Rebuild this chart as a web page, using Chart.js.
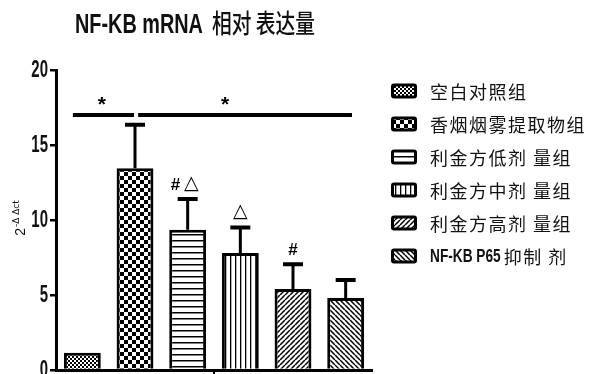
<!DOCTYPE html>
<html>
<head>
<meta charset="utf-8">
<title>NF-KB mRNA 相对 表达量</title>
<script src="https://cdn.jsdelivr.net/npm/chart.js@4/dist/chart.umd.min.js"></script>
<style>
  html, body { margin: 0; padding: 0; background: #fff; }
  #wrap { position: relative; width: 592px; height: 374px; }
</style>
</head>
<body>
<div id="wrap"><canvas id="chart"></canvas></div>
<script>
// ─── Data ────────────────────────────────────────────────────────────────────

const TITLE = 'NF-KB mRNA 相对 表达量';

const GROUPS = [
  '空白对照组',
  '香烟烟雾提取物组',
  '利金方低剂 量组',
  '利金方中剂 量组',
  '利金方高剂 量组',
  'NF-KB P65 抑制 剂',
];

const MEANS  = [1.15, 13.45, 9.35, 7.8, 5.4, 4.8];
const ERRORS = [0, 2.9, 2.05, 1.7, 1.65, 1.2];
const MARKS  = ['', '', '#△', '△', '#', ''];

// significance brackets: [from index, to index], star index, level
const SIG_LINES = [[-0.18, 0.98], [1.06, 5.12]];
const SIG_STARS = [0.37, 2.71];
const SIG_LEVEL = 17;

// ─── Helpers ─────────────────────────────────────────────────────────────────

const $ = (id) => document.getElementById(id);

function diag(back) {
  return (g, s) => {
    g.lineWidth = 1.5;
    g.beginPath();
    for (let k = -1; k <= 1; k++) {
      if (back) { g.moveTo(k * s, 0); g.lineTo(k * s + s, s); }
      else      { g.moveTo(k * s, s); g.lineTo(k * s + s, 0); }
    }
    g.stroke();
  };
}

function makePattern(size, paint) {
  const c = document.createElement('canvas');
  c.width = c.height = size;
  const g = c.getContext('2d');
  g.fillStyle = '#fff';
  g.fillRect(0, 0, size, size);
  g.fillStyle = '#000';
  g.strokeStyle = '#000';
  paint(g, size);
  return g.createPattern(c, 'repeat');
}

const PATTERNS = [
  makePattern(4, (g) => { g.fillRect(0, 0, 2, 2); g.fillRect(2, 2, 2, 2); }),
  makePattern(8, (g) => { g.fillRect(0, 0, 4, 4); g.fillRect(4, 4, 4, 4); }),
  makePattern(6, (g, s) => { g.fillRect(0, 0, s, 1.5); }),
  makePattern(5, (g, s) => { g.fillRect(0, 0, 1.3, s); }),
  makePattern(5, diag(false)),
  makePattern(5, diag(true)),
];

function splitLatin(text) {
  const m = text.match(/^[\x21-\x7E][\x20-\x7E]*/);
  if (!m) return ['', text];
  return [m[0].trim(), text.slice(m[0].length)];
}

// draw text squeezed horizontally, returns drawn width
function drawSquashed(ctx, text, x, y, font, sx, spacing = '0px') {
  ctx.save();
  ctx.font = font;
  ctx.letterSpacing = spacing;
  ctx.translate(x, y);
  ctx.scale(sx, 1);
  ctx.fillText(text, 0, 0);
  const w = ctx.measureText(text).width * sx;
  ctx.restore();
  return w;
}

// ─── Plugin: error bars, marks, brackets, title, legend ─────────────────────

const decorations = {
  id: 'decorations',
  afterDatasetsDraw(chart) {
    const { ctx, scales: { x, y } } = chart;
    const meta = chart.getDatasetMeta(0);
    ctx.save();
    ctx.strokeStyle = '#000';
    ctx.fillStyle = '#000';
    ctx.lineCap = 'butt';

    // upper error bars
    meta.data.forEach((bar, i) => {
      if (!ERRORS[i]) return;
      const top = y.getPixelForValue(MEANS[i] + ERRORS[i]);
      ctx.lineWidth = 3;
      ctx.beginPath(); ctx.moveTo(bar.x, bar.y); ctx.lineTo(bar.x, top); ctx.stroke();
      ctx.lineWidth = 4;
      ctx.beginPath(); ctx.moveTo(bar.x - 10, top); ctx.lineTo(bar.x + 10, top); ctx.stroke();
    });

    // # / △ marks above the error bars
    ctx.textBaseline = 'middle';
    ctx.textAlign = 'left';
    MARKS.forEach((m, i) => {
      if (!m) return;
      const cx = x.getPixelForValue(i);
      const cy = y.getPixelForValue(MEANS[i] + ERRORS[i]) - 15;
      const parts = [...m].map((ch) => ({
        ch, font: ch === '#' ? 'bold 17px "Liberation Sans"' : '19px "DejaVu Sans"',
      }));
      let total = 0;
      parts.forEach((p) => { ctx.font = p.font; p.w = ctx.measureText(p.ch).width; total += p.w; });
      total += (parts.length - 1) * 4;
      let px = cx - total / 2 - (parts.length > 1 ? 3 : 0);
      parts.forEach((p) => {
        ctx.font = p.font;
        ctx.fillText(p.ch, px, cy + (p.ch === '#' ? 1 : 0));
        px += p.w + 4;
      });
    });

    // significance brackets
    const ly = y.getPixelForValue(SIG_LEVEL);
    ctx.lineWidth = 4;
    SIG_LINES.forEach(([a, b]) => {
      ctx.beginPath();
      ctx.moveTo(x.getPixelForValue(a), ly);
      ctx.lineTo(x.getPixelForValue(b), ly);
      ctx.stroke();
    });
    ctx.font = 'bold 21px "Liberation Sans"';
    ctx.textAlign = 'center';
    ctx.textBaseline = 'middle';
    SIG_STARS.forEach((s) => ctx.fillText('*', x.getPixelForValue(s), ly - 10));

    // middle tick under the x axis
    const mx = x.getPixelForValue((GROUPS.length - 1) / 2);
    ctx.lineWidth = 2;
    ctx.beginPath(); ctx.moveTo(mx, y.bottom); ctx.lineTo(mx, y.bottom + 6); ctx.stroke();
    ctx.restore();
  },

  afterDraw(chart) {
    const { ctx, scales: { y } } = chart;
    ctx.save();
    ctx.fillStyle = '#111';
    ctx.textBaseline = 'alphabetic';

    // title
    const [tLatin, tCjk] = splitLatin(TITLE);
    const tw = drawSquashed(ctx, tLatin, 75, 33, 'bold 27px "Liberation Sans"', 0.735);
    drawSquashed(ctx, tCjk, 75 + tw + 9, 33, '500 26px "Noto Sans CJK SC"', 0.76);

    // y tick labels (condensed bold)
    ctx.textAlign = 'right';
    ctx.textBaseline = 'middle';
    y.ticks.forEach((t) => {
      drawSquashed(ctx, String(t.value), y.right - 8, y.getPixelForValue(t.value) + 1,
        'bold 23px "Liberation Sans"', 0.65);
    });

    // y axis title: 2^-ΔΔct
    ctx.save();
    ctx.translate(21, 218);
    ctx.rotate(-Math.PI / 2);
    ctx.textAlign = 'left';
    ctx.textBaseline = 'alphabetic';
    ctx.font = '14px "Liberation Sans"';
    const w1 = ctx.measureText('2').width;
    ctx.font = '9px "DejaVu Sans"';
    const sup = '-Δ Δct';
    const w2 = ctx.measureText(sup).width;
    const sx = -(w1 + 1 + w2) / 2;
    ctx.font = '14px "Liberation Sans"';
    ctx.fillText('2', sx, 4);
    ctx.font = '9px "DejaVu Sans"';
    ctx.fillText(sup, sx + w1 + 1, -2);
    ctx.restore();

    // legend
    ctx.textAlign = 'left';
    ctx.textBaseline = 'middle';
    GROUPS.forEach((g, i) => {
      const cy = 91 + i * 33;
      ctx.fillStyle = '#000';
      ctx.beginPath();
      ctx.roundRect(391, cy - 7.5, 26, 15, 3);
      ctx.fill();
      ctx.fillStyle = PATTERNS[i];
      ctx.fillRect(394, cy - 4.5, 20, 9);

      ctx.fillStyle = '#111';
      const [latin, cjk] = splitLatin(g);
      let tx = 430;
      if (latin) {
        tx += drawSquashed(ctx, latin, tx, cy + 1, 'bold 19px "Liberation Sans"', 0.72) + 3;
      }
      drawSquashed(ctx, cjk, tx, cy + 1, '18px "Noto Sans CJK SC"', 1, '1.5px');
    });
    ctx.restore();
  },
};

// ─── Chart ───────────────────────────────────────────────────────────────────

new Chart($('chart'), {
  type: 'bar',
  data: {
    labels: GROUPS,
    datasets: [{
      data: MEANS,
      backgroundColor: PATTERNS,
      borderColor: '#000',
      borderWidth: 3,
      barPercentage: 0.7,
      categoryPercentage: 1,
    }],
  },
  options: {
    responsive: true,
    maintainAspectRatio: false,
    animation: false,
    layout: { padding: { top: 70, right: 220, bottom: 0, left: 0 } },
    plugins: {
      legend: { display: false },
      tooltip: { enabled: false },
    },
    scales: {
      x: {
        offset: true,
        ticks: { display: false },
        grid: { display: false },
        border: { display: true, color: '#000', width: 3 },
        afterFit: (s) => { s.height = 4; },
      },
      y: {
        min: 0,
        max: 20,
        ticks: { stepSize: 5, display: false },
        grid: { drawOnChartArea: false, drawTicks: true, tickLength: 6, color: '#000', lineWidth: 2.5 },
        border: { color: '#000', width: 3 },
        afterFit: (s) => { s.width = 56; },
      },
    },
  },
  plugins: [decorations],
});
</script>
</body>
</html>
